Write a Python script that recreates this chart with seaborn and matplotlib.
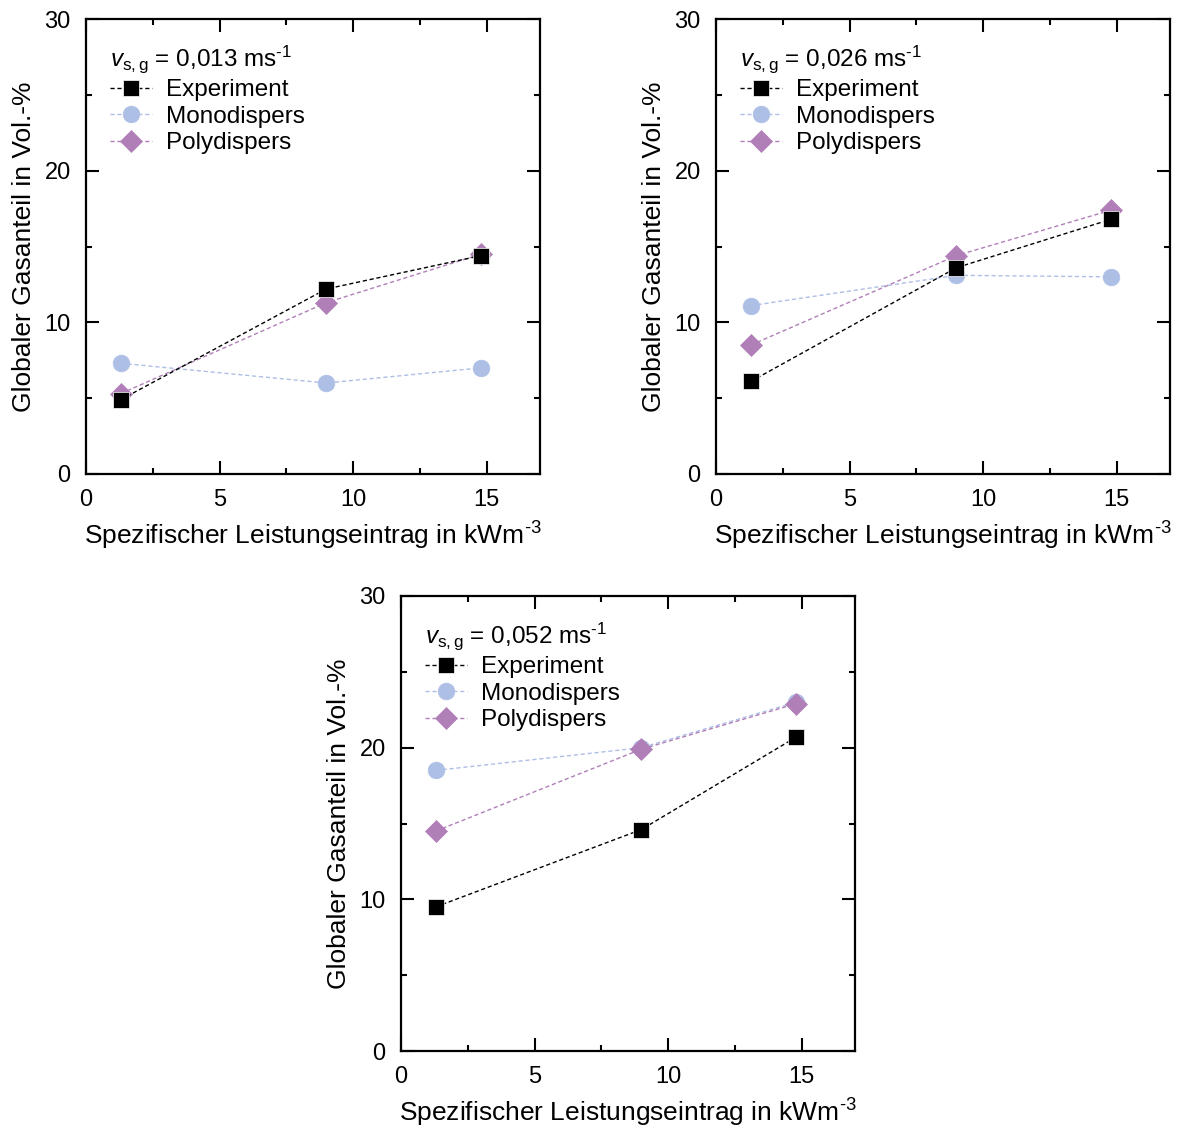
import matplotlib
matplotlib.use("Agg")
import matplotlib.pyplot as plt
import seaborn as sns
import pandas as pd
from matplotlib.ticker import MultipleLocator

sns.set_style("ticks")
plt.rcParams['font.family'] = ['Liberation Sans', 'DejaVu Sans']
plt.rcParams['mathtext.fontset'] = 'custom'
plt.rcParams['mathtext.rm'] = 'Liberation Sans'
plt.rcParams['mathtext.it'] = 'Liberation Sans:italic'
plt.rcParams['text.color'] = 'black'
plt.rcParams['axes.labelcolor'] = 'black'
plt.rcParams['xtick.color'] = 'black'
plt.rcParams['ytick.color'] = 'black'
plt.rcParams['axes.edgecolor'] = 'black'

power = [1.3, 9.0, 14.8]
velocities = ["0,013", "0,026", "0,052"]

exp_vals = [[4.9, 12.2, 14.4], [6.1, 13.6, 16.8], [9.5, 14.6, 20.7]]
mono_vals = [[7.3, 6.0, 7.0], [11.1, 13.1, 13.0], [18.5, 20.0, 23.0]]
poly_vals = [[5.3, 11.3, 14.5], [8.5, 14.4, 17.4], [14.5, 19.9, 22.9]]

series_names = ["Experiment", "Monodispers", "Polydispers"]
colors = ["#000000", "#aebfe6", "#b07fb8"]
markers = ["s", "o", "D"]
msizes = [11, 12, 11]
zorders = [4, 3, 3.5]

xlabel = "Spezifischer Leistungseintrag in kWm$^{\\text{-3}}$"
ylabel = "Globaler Gasanteil in Vol.-%"

W, H = 1184, 1129
fig = plt.figure(figsize=(W / 100, H / 100), dpi=100)

positions = [(86, 19, 540, 474), (716, 19, 1170, 474), (401, 596, 855, 1051)]

for i, (l, t, r, b) in enumerate(positions):
    ax = fig.add_axes([l / W, 1 - b / H, (r - l) / W, (b - t) / H])
    all_vals = [exp_vals[i], mono_vals[i], poly_vals[i]]
    for name, vals, c, m, ms, z in zip(series_names, all_vals, colors, markers, msizes, zorders):
        df = pd.DataFrame({"x": power, "y": vals})
        sns.lineplot(data=df, x="x", y="y", ax=ax, color=c, marker=m, markersize=ms,
                     markeredgewidth=0.5, markeredgecolor=c if c != "#000000" else "white",
                     linestyle=(0, (3, 2)), linewidth=1.0, label=name, zorder=z)
    ax.set_xlim(0, 17)
    ax.set_ylim(0, 30)
    ax.set_xticks([0, 5, 10, 15])
    ax.xaxis.set_minor_locator(MultipleLocator(2.5))
    ax.yaxis.set_major_locator(MultipleLocator(10))
    ax.yaxis.set_minor_locator(MultipleLocator(5))
    ax.tick_params(which='both', direction='in', top=True, right=True, width=1.5,
                   labelsize=17, pad=11)
    ax.tick_params(which='major', length=9.5)
    ax.tick_params(which='minor', length=4.5)
    for sp in ax.spines.values():
        sp.set_linewidth(1.6)
    ax.set_xlabel(xlabel, fontsize=19, labelpad=6)
    ax.set_ylabel(ylabel, fontsize=19, labelpad=6)
    leg = ax.legend(loc="upper left", frameon=False, fontsize=17.5,
                    title=r"$v_{\mathrm{s,g}}$ = " + velocities[i] + " ms$^{\\text{-1}}$",
                    title_fontsize=17.5, handlelength=1.7, handletextpad=0.6,
                    labelspacing=0.18, borderaxespad=0.6, borderpad=0.4)
    leg._legend_box.align = "left"

fig.savefig("out.png", dpi=100)
